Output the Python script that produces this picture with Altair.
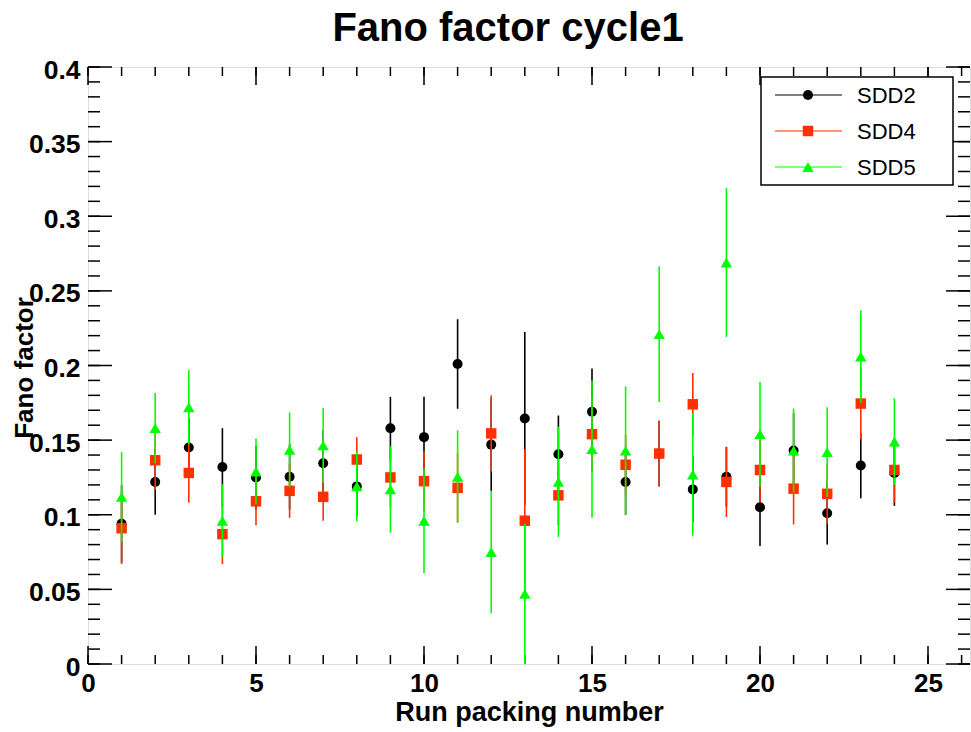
import altair as alt
import pandas as pd

# ---------------- data ----------------
runs = list(range(1, 25))

sdd2 = [0.094, 0.122, 0.145, 0.132, 0.125, 0.1255, 0.1345, 0.119, 0.158, 0.152, 0.201, 0.147,
        0.1645, 0.1405, 0.169, 0.122, 0.141, 0.117, 0.1255, 0.105, 0.143, 0.101, 0.133, 0.128]
sdd2_err = [0.026, 0.022, 0.020, 0.026, 0.021, 0.022, 0.022, 0.020, 0.021, 0.027, 0.030, 0.031,
            0.058, 0.026, 0.029, 0.022, 0.022, 0.022, 0.020, 0.026, 0.025, 0.021, 0.022, 0.022]

sdd4 = [0.091, 0.1365, 0.128, 0.087, 0.109, 0.116, 0.112, 0.137, 0.125, 0.1225, 0.118, 0.1545,
        0.096, 0.113, 0.154, 0.1335, 0.141, 0.174, 0.122, 0.130, 0.1175, 0.114, 0.1745, 0.130]
sdd4_err = [0.024, 0.020, 0.020, 0.020, 0.016, 0.018, 0.016, 0.015, 0.020, 0.020, 0.023, 0.0255,
            0.048, 0.020, 0.025, 0.020, 0.022, 0.021, 0.0235, 0.022, 0.024, 0.020, 0.024, 0.022]

sdd5 = [0.112, 0.158, 0.172, 0.096, 0.129, 0.1435, 0.1465, 0.119, 0.117, 0.096, 0.1255, 0.075,
        0.047, 0.122, 0.144, 0.143, 0.221, 0.127, 0.269, 0.154, 0.143, 0.142, 0.206, 0.149]
sdd5_err = [0.030, 0.0235, 0.025, 0.0245, 0.022, 0.025, 0.025, 0.0235, 0.029, 0.035, 0.031, 0.041,
            0.047, 0.037, 0.046, 0.043, 0.0455, 0.041, 0.050, 0.035, 0.028, 0.030, 0.031, 0.029]

series_names = ["SDD2", "SDD4", "SDD5"]
series_colors = ["#000000", "#ff3000", "#00ff00"]
series_shapes = ["circle", "square", "triangle-up"]
series_sizes = [100, 110, 130]

x_major = [0, 5, 10, 15, 20, 25]
x_minor = list(range(0, 27))
y_major = [0, 0.05, 0.1, 0.15, 0.2, 0.25, 0.3, 0.35, 0.4]
y_minor = [round(i * 0.01, 2) for i in range(0, 41)]

title_text = "Fano factor cycle1"
x_title = "Run packing number"
y_title = "Fano factor"

# ---------------- layout ----------------
W, H = 882, 597
FONT = "Liberation Sans"
xs = alt.Scale(domain=[0, 26.25], nice=False, zero=False)
ys = alt.Scale(domain=[0, 0.4], nice=False, zero=False)

x_axis = alt.Axis(values=x_major, format="d", ticks=False, tickSize=0, domain=False, grid=False,
                  labelFont=FONT, labelFontSize=26, labelFontWeight="bold", labelColor="black",
                  labelPadding=6, labelFlush=False, labelOverlap=False,
                  title=x_title, titleFont=FONT, titleFontSize=27, titleFontWeight="bold",
                  titleColor="black", titleX=441, titleY=56, titleBaseline="alphabetic",
                  titleAlign="center")
y_axis = alt.Axis(values=y_major, format="~g", ticks=False, tickSize=0, domain=False, grid=False,
                  labelFont=FONT, labelFontSize=26.5, labelFontWeight="bold", labelColor="black",
                  labelPadding=8, labelFlush=False, labelOverlap=False, labelOffset=3,
                  title=y_title, titleFont=FONT, titleFontSize=26, titleFontWeight="bold",
                  titleColor="black", titleAngle=270, titleX=-56, titleY=H / 2 + 2,
                  titleBaseline="alphabetic", titleAlign="center")

layers = []

# inward ticks on all four sides
def xticks(vals, length):
    df = pd.DataFrame({"t": vals})
    bottom = alt.Chart(df).mark_rule(color="black", strokeWidth=1.5).encode(
        x=alt.X("t:Q", scale=xs, axis=x_axis), y=alt.value(H), y2=alt.value(H - length))
    top = alt.Chart(df).mark_rule(color="black", strokeWidth=1.5).encode(
        x=alt.X("t:Q", scale=xs, axis=x_axis), y=alt.value(0), y2=alt.value(length))
    return [bottom, top]

def yticks(vals, length):
    df = pd.DataFrame({"t": vals})
    left = alt.Chart(df).mark_rule(color="black", strokeWidth=1.5).encode(
        y=alt.Y("t:Q", scale=ys, axis=y_axis), x=alt.value(0), x2=alt.value(length))
    right = alt.Chart(df).mark_rule(color="black", strokeWidth=1.5).encode(
        y=alt.Y("t:Q", scale=ys, axis=y_axis), x=alt.value(W), x2=alt.value(W - length))
    return [left, right]

layers += xticks(x_minor, 9) + xticks(x_major, 18)
layers += yticks(y_minor, 12) + yticks(y_major, 24)

# data series
all_vals = [sdd2, sdd4, sdd5]
all_errs = [sdd2_err, sdd4_err, sdd5_err]
for vals, errs, color, shape, size in zip(all_vals, all_errs, series_colors, series_shapes, series_sizes):
    df = pd.DataFrame({"run": runs, "val": vals,
                       "lo": [v - e for v, e in zip(vals, errs)],
                       "hi": [v + e for v, e in zip(vals, errs)]})
    bars = alt.Chart(df).mark_rule(color=color, strokeWidth=1.6).encode(
        x=alt.X("run:Q", scale=xs, axis=x_axis),
        y=alt.Y("lo:Q", scale=ys, axis=y_axis), y2="hi:Q")
    pts = alt.Chart(df).mark_point(shape=shape, filled=True, color=color, size=size, opacity=1,
                                   strokeWidth=0).encode(
        x=alt.X("run:Q", scale=xs, axis=x_axis),
        y=alt.Y("val:Q", scale=ys, axis=y_axis))
    layers += [bars, pts]

# legend (ROOT TLegend style)
one = pd.DataFrame({"k": [0]})
layers.append(alt.Chart(one).mark_rect(fill="white", stroke="black", strokeWidth=1.5).encode(
    x=alt.value(673), x2=alt.value(865), y=alt.value(10), y2=alt.value(118)))
row_y = [28, 64, 100]
for name, color, shape, size, ry in zip(series_names, series_colors, series_shapes, series_sizes, row_y):
    ldf = pd.DataFrame({"name": [name]})
    layers.append(alt.Chart(ldf).mark_rule(color=color, strokeWidth=1.2).encode(
        x=alt.value(687), x2=alt.value(754), y=alt.value(ry)))
    layers.append(alt.Chart(ldf).mark_point(shape=shape, filled=True, color=color, size=size,
                                            opacity=1, strokeWidth=0).encode(
        x=alt.value(720), y=alt.value(ry)))
    layers.append(alt.Chart(ldf).mark_text(font=FONT, fontSize=22, align="left", baseline="middle",
                                           color="black").encode(
        x=alt.value(769), y=alt.value(ry + 1), text="name:N"))

# chart title (ROOT pad title)
tdf = pd.DataFrame({"title": [title_text]})
layers.append(alt.Chart(tdf).mark_text(font=FONT, fontSize=40, fontWeight="bold", align="center",
                                       baseline="alphabetic", color="black").encode(
    x=alt.value(W / 2 - 21), y=alt.value(-26), text="title:N"))

chart = alt.layer(*layers).properties(
    width=W, height=H,
    autosize=alt.AutoSizeParams(type="none"),
    padding={"left": 88, "top": 67, "right": 1, "bottom": 68},
).configure_view(stroke="black", strokeWidth=2.5).configure(background="white")

chart.save("out.html", embed_options={"renderer": "svg", "actions": False})
